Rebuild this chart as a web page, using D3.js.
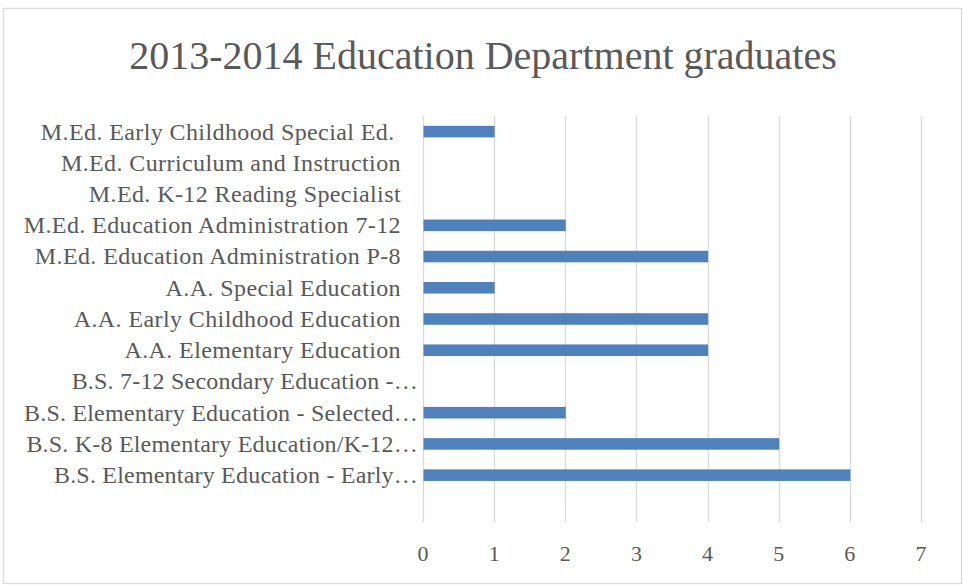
<!DOCTYPE html>
<html>
<head>
<meta charset="utf-8">
<script src="https://cdn.jsdelivr.net/npm/d3@7"></script>
<style>
  html, body { margin: 0; padding: 0; background: #fff; }
  svg { display: block; }
  text { font-family: "Liberation Serif", "Times New Roman", serif; fill: #595959; white-space: pre; }
</style>
</head>
<body>
<div id="chart"></div>
<script>
'use strict';

// categories top to bottom (last one is an empty row, as in the source sheet)
const programs = [
  'M.Ed. Early Childhood Special Ed. ',
  'M.Ed. Curriculum and Instruction',
  'M.Ed. K-12 Reading Specialist',
  'M.Ed. Education Administration 7-12',
  'M.Ed. Education Administration P-8',
  'A.A. Special Education',
  'A.A. Early Childhood Education',
  'A.A. Elementary Education',
  'B.S. 7-12 Secondary Education -…',
  'B.S. Elementary Education - Selected…',
  'B.S. K-8 Elementary Education/K-12…',
  'B.S. Elementary Education - Early…',
  ''
];
const graduates = [1, 0, 0, 2, 4, 1, 4, 4, 0, 2, 5, 6, 0];
const xTicks = [0, 1, 2, 3, 4, 5, 6, 7];
const title = '2013-2014 Education Department graduates';

const width = 963, height = 585;
const plot = { left: 423, right: 921, top: 116, bottom: 522 };

const rows = programs.map((p, i) => ({ key: i, label: p, value: graduates[i] }));

const $svg = d3.select('#chart').append('svg')
  .attr('width', width)
  .attr('height', height);

// outer frame
$svg.append('rect')
  .attr('x', 3.5).attr('y', 8.5)
  .attr('width', 958).attr('height', 575)
  .attr('fill', '#fff')
  .attr('stroke', '#d9d9d9')
  .attr('stroke-width', 1.3);

$svg.append('text')
  .attr('x', 483).attr('y', 69)
  .attr('text-anchor', 'middle')
  .style('font-size', '40px')
  .text(title);

const x = d3.scaleLinear().domain([0, 7]).range([plot.left, plot.right]);
const y = d3.scaleBand()
  .domain(rows.map((d) => d.key))
  .range([plot.top, plot.bottom])
  .paddingInner(0.63)
  .paddingOuter(0.315);

// vertical gridlines
$svg.append('g').selectAll('.grid')
  .data(xTicks)
  .enter()
  .append('line')
  .attr('class', 'grid')
  .attr('x1', (d) => Math.round(x(d)) + 0.5)
  .attr('x2', (d) => Math.round(x(d)) + 0.5)
  .attr('y1', plot.top)
  .attr('y2', plot.bottom)
  .attr('stroke', '#d9d9d9')
  .attr('stroke-width', 1.3);

// bars
$svg.append('g').selectAll('.bar')
  .data(rows)
  .enter()
  .append('rect')
  .attr('class', 'bar')
  .attr('x', x(0) + 0.5)
  .attr('y', (d) => y(d.key))
  .attr('width', (d) => Math.max(0, x(d.value) - x(0)))
  .attr('height', y.bandwidth())
  .attr('fill', '#4f81bd');

// category labels; truncated ones hang a little further right, like Excel does
$svg.append('g').selectAll('.label')
  .data(rows)
  .enter()
  .append('text')
  .attr('class', 'label')
  .attr('x', (d) => d.label.endsWith('…') ? 418 : 401)
  .attr('y', (d) => y(d.key) + y.bandwidth() / 2)
  .attr('dy', '0.33em')
  .attr('text-anchor', 'end')
  .style('font-size', '24px')
  .style('letter-spacing', (d) => d.label.endsWith('…') ? '0.2px' : '0.4px')
  .text((d) => d.label);

// x tick labels
$svg.append('g').selectAll('.tick')
  .data(xTicks)
  .enter()
  .append('text')
  .attr('class', 'tick')
  .attr('x', (d) => x(d))
  .attr('y', 561)
  .attr('text-anchor', 'middle')
  .style('font-size', '22px')
  .text((d) => d);
</script>
</body>
</html>
